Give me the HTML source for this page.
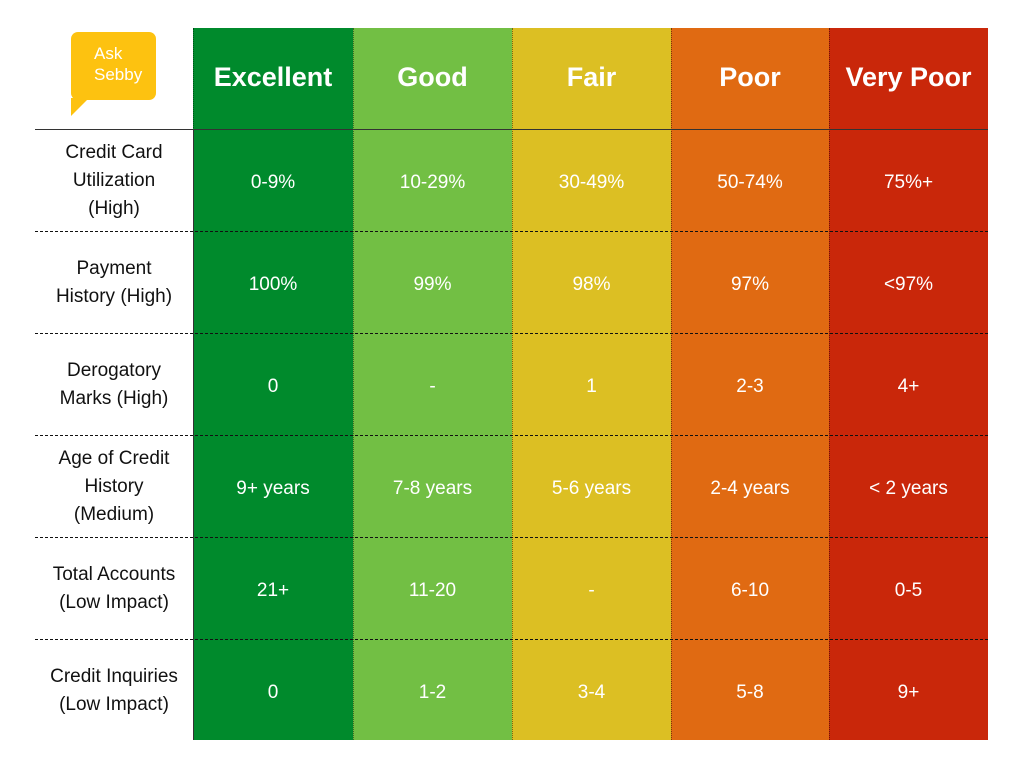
<!DOCTYPE html>
<html><head><meta charset="utf-8"><style>
body{margin:0;width:1024px;height:768px;background:#fff;position:relative;overflow:hidden;font-family:"Liberation Sans",sans-serif}
.a{position:absolute;box-sizing:border-box}
.col{top:28px;height:712px}
.hd{color:#fff;font-weight:bold;font-size:27px;display:flex;align-items:center;justify-content:center;height:101px;padding-bottom:2px}
.cell{color:#fff;font-size:19px;display:flex;align-items:center;justify-content:center;text-align:center;padding-top:6px}
.lab{color:#111;font-size:19px;line-height:28px;display:flex;align-items:center;justify-content:center;text-align:center;padding-top:2px}
</style></head><body>
<div class="a" style="left:71px;top:32px;width:85px;height:68px;background:#fdc210;border-radius:7px;color:#fff;font-size:17px;line-height:21px;padding:11px 0 0 23px">Ask<br>Sebby</div>
<svg class="a" style="left:71px;top:98px" width="40" height="20"><polygon points="0,0 0,18 18,0" fill="#fdc210"/></svg>
<div id="t"></div>
<script>
const tiers=["Excellent","Good","Fair","Poor","Very Poor"];
const colors=["#008a2c","#72bf44","#dcbf23","#e06a12","#c9270a"];
const factors=["Credit Card<br>Utilization<br>(High)","Payment<br>History (High)","Derogatory<br>Marks (High)","Age of Credit<br>History<br>(Medium)","Total Accounts<br>(Low Impact)","Credit Inquiries<br>(Low Impact)"];
const values=[["0-9%","10-29%","30-49%","50-74%","75%+"],["100%","99%","98%","97%","<97%"],["0","-","1","2-3","4+"],["9+ years","7-8 years","5-6 years","2-4 years","< 2 years"],["21+","11-20","-","6-10","0-5"],["0","1-2","3-4","5-8","9+"]];
const t=document.getElementById('t');
const colX=[193,353,512,671,829,988], rowY=[129,231,333,435,537,639,740];
function mk(cls,st,html){const d=document.createElement('div');d.className='a '+cls;d.style.cssText=st;if(html!==undefined)d.innerHTML=html;t.appendChild(d);return d;}
tiers.forEach((n,i)=>{
 const c=mk('col',`left:${colX[i]}px;width:${colX[i+1]-colX[i]}px;background:${colors[i]};border-left:1px dotted rgba(0,0,0,.45)`);
 
 
 const h=mk('hd',`left:${colX[i]}px;top:28px;width:${colX[i+1]-colX[i]}px`,n);
 
 
});
factors.forEach((f,r)=>{
 const l=mk('lab',`left:35px;top:${rowY[r]}px;width:158px;height:${rowY[r+1]-rowY[r]}px`,f);
 
 
 values[r].forEach((v,i)=>{
  const c=mk('cell',`left:${colX[i]}px;top:${rowY[r]}px;width:${colX[i+1]-colX[i]}px;height:${rowY[r+1]-rowY[r]}px`);
  c.textContent=v;
  
  
 });
 if(r>0){const d=mk('',`left:35px;top:${rowY[r]}px;width:953px;height:0;border-top:1px dashed #111`);
  
  }
});
const hl=mk('',`left:35px;top:129px;width:953px;height:0;border-top:1.5px solid #333`);


const vl=mk('',`left:193px;top:129px;width:0;height:611px;border-left:1.5px solid #333`);


</script>
</body></html>
